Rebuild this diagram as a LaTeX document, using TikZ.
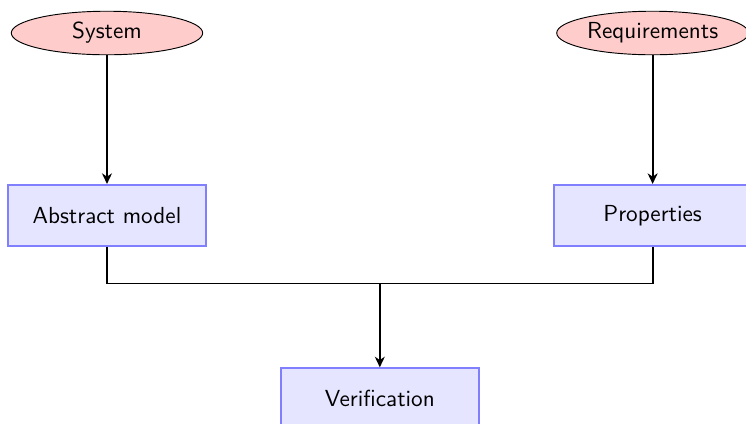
\documentclass[tikz,border=0pt]{standalone}
\usepackage{tikz}
\usetikzlibrary{positioning, arrows.meta, shapes.geometric, calc}

\tikzset{
  source/.style={ellipse, draw, fill=red!20, minimum width=2.9cm, minimum height=0.66cm,
    inner sep=1pt, font=\sffamily},
  stage/.style={rectangle, draw=blue!50, thick, fill=blue!10, minimum width=3cm,
    minimum height=0.92cm, font=\sffamily},
  flow/.style={-{Stealth[length=1.6mm, width=1.5mm, inset=0.5mm]}, thick},
}

\begin{document}
\begin{tikzpicture}
  \useasboundingbox (-1.621,0.5) rectangle (9.682,-5.924);
  % inputs
  \node[source] (system) at (0,0) {System};
  \node[source, right=5.35cm of system] (reqs) {Requirements};
  % what gets built from them
  \node[stage, below=1.95cm of system] (model) {Abstract model};
  \node[stage, below=1.95cm of reqs] (props) {Properties};
  \node[stage, below=1.83cm of $(model.south)!0.5!(props.south)$] (verif) {Verification};
  \coordinate (join) at ($(verif.north)+(0,1.27)$);

  \draw[flow] (system) -- (model);
  \draw[flow] (reqs) -- (props);
  \draw[thick] (model.south) |- (join) -| (props.south);
  \draw[flow] (join) -- (verif.north);
\end{tikzpicture}
\end{document}
